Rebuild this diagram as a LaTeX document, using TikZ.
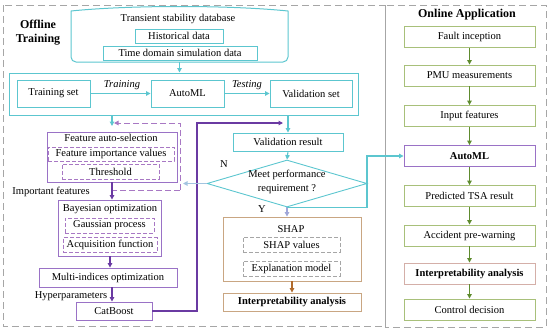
\documentclass[tikz,border=0pt]{standalone}
\usepackage{fontspec}
\setmainfont{Liberation Serif}
\usetikzlibrary{arrows.meta,shapes.geometric}
\definecolor{cy}{HTML}{5CC6CF}
\definecolor{pu}{HTML}{9A72C6}
\definecolor{pud}{HTML}{6A3AA2}
\definecolor{pdash}{HTML}{A878C4}
\definecolor{gr}{HTML}{A8C07A}
\definecolor{grd}{HTML}{5E8B2E}
\definecolor{br}{HTML}{C9A682}
\definecolor{brd}{HTML}{B06A2C}
\definecolor{pk}{HTML}{D4AFA8}
\definecolor{gy}{HTML}{A6A6A6}
\definecolor{lb}{HTML}{A3C4E0}
\definecolor{lp}{HTML}{9FA6D8}
\tikzset{
  txt/.style={font=\fontsize{10.5}{14}\selectfont, inner sep=0pt, align=center},
  bx/.style={txt, draw, line width=0.9pt, minimum height=#1},
  bx/.default=21,
  dbox/.style={txt, draw, dashed, dash pattern=on 4pt off 2pt, line width=0.7pt},
  panel/.style={draw=gy, dashed, dash pattern=on 7pt off 4pt, line width=0.9pt},
  arr/.style={line width=1.1pt, -{Triangle[length=4.5pt,width=4.5pt]}},
  ttl/.style={font=\fontsize{12}{14}\selectfont\bfseries, inner sep=0pt, align=center}
}
\begin{document}
\begin{tikzpicture}[x=1pt,y=-1pt]
\useasboundingbox (0,0) rectangle (550,333);
% panels
\draw[panel] (3,5) rectangle (385,326);
\draw[panel] (385,5) rectangle (546,327);
\node[ttl] (offt) at (38,33) {Offline\\Training};
\node[ttl] (ont) at (467,15) {Online Application};

% database
\draw[cy, line width=1pt] (71,11) .. controls (130,5) and (229,5) .. (288,11)
  -- (288,57) to[out=-90,in=0] (283,62) -- (76,62) to[out=180,in=-90] (71,57) -- cycle;
\node[inner sep=0pt, minimum width=217, minimum height=54] (db) at (179.5,35) {};
\node[txt] (dbt) at (178,19) {Transient stability database};
\node[bx=14, draw=cy, minimum width=88] (hist) at (179,36) {Historical data};
\node[bx=14, draw=cy, minimum width=154] (tds) at (180,53) {Time domain simulation data};

% big box
\node[draw=cy, line width=1pt, minimum width=349, minimum height=42, inner sep=0pt] (big) at (183.5,94) {};
\node[bx=27, draw=cy, minimum width=73] (ts) at (53.5,93.5) {Training set};
\node[bx=27, draw=cy, minimum width=73] (am) at (187.5,93.5) {AutoML};
\node[bx=27, draw=cy, minimum width=82] (vs) at (311,93.5) {Validation set};
\node[txt, font=\fontsize{10.5}{14}\selectfont\itshape] (trl) at (122,85) {Training};
\node[txt, font=\fontsize{10.5}{14}\selectfont\itshape] (tel) at (247,85) {Testing};
\draw[cy, arr] (db.south) -- (big.north -| db.south);
\draw[cy, arr] (ts) -- (am);
\draw[cy, arr] (am) -- (vs);

% feature auto-selection
\node[draw=pu, line width=0.9pt, minimum width=130, minimum height=50, inner sep=0pt] (fas) at (112,157) {};
\node[txt] (fast) at (111,138) {Feature auto-selection};
\node[dbox, draw=pdash, minimum width=126, minimum height=14] (fiv) at (111,154) {Feature importance values};
\node[dbox, draw=pdash, minimum width=97, minimum height=15] (thr) at (110.5,171.5) {Threshold};
\coordinate (fin) at (112,126);
\draw[cy, arr] (big.south -| fin) -- (fin);
\coordinate (brk) at (180,123);
\draw[pdash, line width=1pt, dash pattern=on 6pt off 3pt, -{Triangle[length=4.5pt,width=4.5pt]}] (180,190) -- (brk) -- (114,123);
\draw[pdash, line width=1pt, dash pattern=on 6pt off 3pt] (180,190) -- (112,190);
\node[txt] (impf) at (51,192) {Important features};

% Bayesian
\node[draw=pu, line width=0.9pt, minimum width=103, minimum height=56, inner sep=0pt] (bo) at (110,228) {};
\node[txt] (bot) at (110,209) {Bayesian optimization};
\node[dbox, draw=pdash, minimum width=89, minimum height=15] (gp) at (109.5,225.5) {Gaussian process};
\node[dbox, draw=pdash, minimum width=94, minimum height=15] (af) at (110,245) {Acquisition function};
\draw[pud, arr] (fas.south -| 112,0) -- (bo.north -| 112,0);
\node[bx=19, draw=pu, minimum width=138] (mio) at (108,277.5) {Multi-indices optimization};
\draw[pud, arr] (bo.south -| 110,0) -- (mio.north -| 110,0);
\node[bx=18, draw=pu, minimum width=76] (cb) at (114,311) {CatBoost};
\draw[pud, arr] (mio.south -| 112,0) -- (cb.north -| 112,0);
\node[txt] (hyp) at (71,296) {Hyperparameters};

% validation result & decision
\node[bx=18, draw=cy, minimum width=110] (vr) at (288,142) {Validation result};
\draw[cy, arr] (big.south -| vr.north) -- (vr.north);
\coordinate (join) at (283,123);
\draw[pud, arr] (cb.east) -- (197,311) -- (197,123) -- (join);
\node[diamond, draw=cy, line width=0.9pt, minimum width=160, minimum height=47, inner sep=0pt] (dm) at (287,183.5) {};
\node[txt] (dmt) at (287,182) {Meet performance\\requirement ?};
\draw[cy, arr] (vr.south) -- (dm.north);
\coordinate (nend) at (183,183.5);
\draw[lb, arr] (dm.west) -- (nend);
\node[txt] (nl) at (224,164) {N};
\node[txt] (yl) at (262,209) {Y};

% SHAP
\node[draw=br, line width=0.9pt, minimum width=138, minimum height=64, inner sep=0pt] (shap) at (292,249) {};
\node[txt] (shapt) at (291,229) {SHAP};
\node[dbox, draw=gy, minimum width=97, minimum height=15] (sv) at (291.5,244.5) {SHAP values};
\node[dbox, draw=gy, minimum width=97, minimum height=15] (em) at (291.5,268.5) {Explanation model};
\draw[lp, arr] (dm.south) -- (shap.north -| dm.south);
\node[bx=18, draw=br, minimum width=138, font=\fontsize{10.5}{14}\selectfont\bfseries] (ia) at (292,302) {Interpretability analysis};
\draw[brd, arr] (shap.south) -- (ia.north);

% online
\node[bx, draw=gr, minimum width=131] (r1) at (469.5,37) {Fault inception};
\node[bx, draw=gr, minimum width=131] (r2) at (469.5,75.5) {PMU measurements};
\node[bx, draw=gr, minimum width=131] (r3) at (469.5,116) {Input features};
\node[bx, draw=pu, minimum width=131, font=\fontsize{10.5}{14}\selectfont\bfseries] (r4) at (469.5,156) {AutoML};
\node[bx, draw=gr, minimum width=131] (r5) at (469.5,196) {Predicted TSA result};
\node[bx, draw=gr, minimum width=131] (r6) at (469.5,235.5) {Accident pre-warning};
\node[bx, draw=pk, minimum width=131, font=\fontsize{10.5}{14}\selectfont\bfseries] (r7) at (469.5,273.5) {Interpretability analysis};
\node[bx, draw=gr, minimum width=131] (r8) at (469.5,309.5) {Control decision};
\foreach \a/\b in {r1/r2,r2/r3,r3/r4,r4/r5,r5/r6,r6/r7,r7/r8}
  \draw[grd, arr] (\a) -- (\b);
\draw[cy, arr] (dm.south) -- ++(80,0) |- (r4.west);
\end{tikzpicture}
\end{document}
